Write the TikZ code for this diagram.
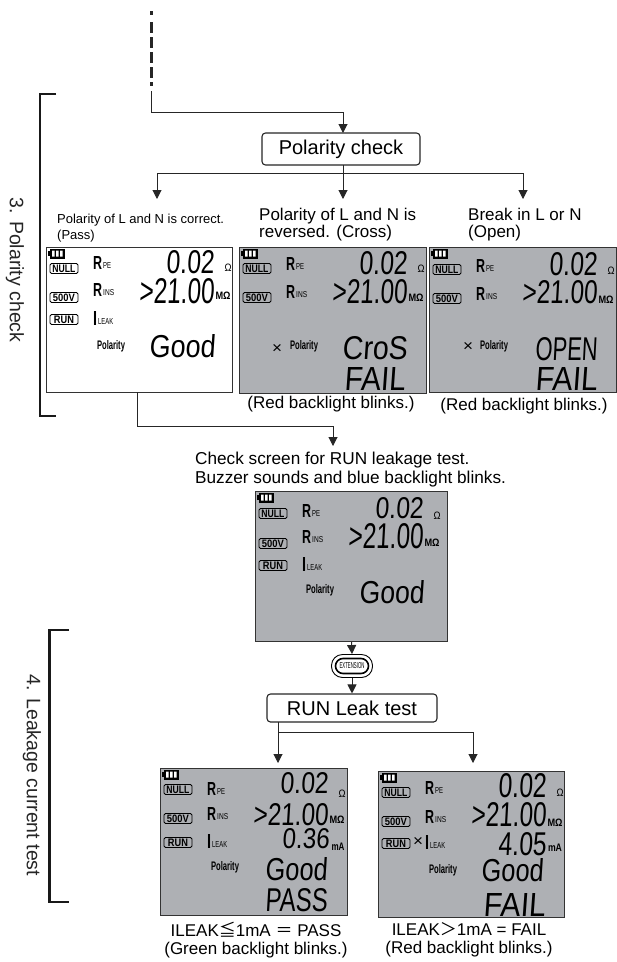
\documentclass[tikz,border=0pt]{standalone}
\usepackage{fontspec}
\setmainfont{Liberation Sans}
\newfontfamily\lcdf{Liberation Sans}[FakeSlant=0.08]
\newfontfamily\cjkf{Noto Sans CJK JP}
\usetikzlibrary{arrows.meta}
\newcommand\fitbox[3]{\resizebox{#1pt}{#2pt}{#3}}
\tikzset{
  x=1pt,y=-1pt,
  conn/.style={line width=1pt,draw=black!85},
  arr/.style={conn,-{Triangle[length=9pt,width=9pt]}},
  bracket/.style={line width=2.6pt,draw=black!90},
  flowbox/.style={draw=black!85,line width=1.1pt,rounded corners=3.5pt,fill=white,font=\fontsize{20}{22}\selectfont,inner sep=0pt},
  panel/.style={draw=black!80,line width=1.1pt,anchor=north west,inner sep=0pt},
  seg/.style={anchor=north west,inner sep=0pt},
  captxt/.style={font=\fontsize{17}{18}\selectfont,align=center,inner sep=0pt},
  labeltxt/.style={font=\fontsize{17}{17}\selectfont,align=left,anchor=north west,inner sep=0pt},
  modebox/.style={draw=black,line width=.9pt,rounded corners=1.5pt,minimum width=28pt,minimum height=10pt,inner sep=0pt,anchor=north west},
  tinytxt/.style={inner sep=0pt},
  steptxt/.style={rotate=-90,font=\fontsize{19.5}{20}\selectfont,inner sep=0pt,text=black!85},
}
\definecolor{lcdgray}{RGB}{174,176,180}
\newcommand\segtext[6]{\node[seg] (#1) at (#2,#3) {\fitbox{#4}{#5}{\lcdf #6}};}
% rows: null y, volt y, Rpe y, Rins y, 0.02 y, 0.02 h, >21 y, >21 h
\newcommand\setrows[8]{\def\rnull{#1}\def\rvolt{#2}\def\rrpe{#3}\def\rrins{#4}\def\raY{#5}\def\raH{#6}\def\rbY{#7}\def\rbH{#8}}
\newcommand\lcdbase[6]{% name x y w h fill
  \node[panel,minimum width=#4pt,minimum height=#5pt,fill=#6] (#1) at (#2,#3) {};
  \begin{scope}[shift={(#2,#3)}]
    \node[fill=black,minimum width=15pt,minimum height=10pt,inner sep=0pt,anchor=north west] (#1bat) at (4,1.5) {};
    \fill[black] (2,4) rectangle (4,9);
    \fill[white] (6,3.5) rectangle (8.5,9.5) (10,3.5) rectangle (12.5,9.5) (14,3.5) rectangle (16.5,9.5);
    \node[modebox] (#1null) at (3.5,\rnull) {\fitbox{23}{7.5}{\bfseries NULL}};
    \node[modebox] (#1volt) at (3.5,\rvolt) {\fitbox{22}{7.5}{\bfseries 500V}};
    \node[tinytxt,anchor=west] (#1rpe) at (47,\rrpe) {\fitbox{9}{13}{\bfseries R}};
    \node[tinytxt,anchor=west] (#1pe) at (57,\rrpe+2.5) {\fitbox{8}{6}{PE}};
    \node[tinytxt,anchor=west] (#1rins) at (47,\rrins) {\fitbox{9}{13}{\bfseries R}};
    \node[tinytxt,anchor=west] (#1ins) at (57,\rrins+2.5) {\fitbox{11}{6}{INS}};
    \segtext{#1a}{120}{\raY}{48}{\raH}{0.02}
    \segtext{#1b}{93}{\rbY}{75}{\rbH}{>21.00}
    \node[tinytxt] (#1om) at (182,\rrpe+5) {\fitbox{7}{7.5}{Ω}};
    \node[tinytxt] (#1mo) at (177,\rrins+6) {\fitbox{15}{7.5}{\bfseries MΩ}};
    \node[tinytxt] (#1pol) at (65,99) {\fitbox{28}{9}{\bfseries Polarity}};
  \end{scope}}
\newcommand\lcdrun[4]{% name x y rowy
  \begin{scope}[shift={(#2,#3)}]
    \node[modebox] (#1run) at (3.5,#4) {\fitbox{20}{7.5}{\bfseries RUN}};
    \node[tinytxt,anchor=west] (#1il) at (47,#4+4) {\fitbox{4}{14}{\bfseries I}};
    \node[tinytxt,anchor=west] (#1leak) at (52,#4+7) {\fitbox{15}{6}{LEAK}};
  \end{scope}}
\newcommand\lcdlow[7]{% name x y lx ly w text
  \begin{scope}[shift={(#2,#3)}]\segtext{#1}{#4}{#5}{#6}{23}{#7}\end{scope}}
\newcommand\crossmark[3]{\node[tinytxt] (#1) at (#2,#3) {\fitbox{10}{9}{×}};}
\begin{document}
\begin{tikzpicture}
\useasboundingbox (0,0) rectangle (617,962);
% flow boxes
\node[flowbox,minimum width=158pt,minimum height=32pt] (polbox) at (341,149) {Polarity check};
\node[flowbox,minimum width=170pt,minimum height=28pt] (runbox) at (352,708) {RUN Leak test};
% panels
\setrows{16}{45}{16}{43}{3}{23}{31}{25}
\lcdbase{p1}{46}{247}{186}{145}{white}\lcdrun{p1}{46}{247}{67}
\lcdlow{p1good}{46}{247}{103}{87}{66}{Good}
\setrows{16}{45}{17}{45}{4}{23}{32}{24}
\lcdbase{p2}{239}{247}{187}{146}{lcdgray}
\lcdlow{p2t}{239}{247}{103}{89}{65}{CroS}
\lcdlow{p2f}{239}{247}{105}{120}{61}{FAIL}
\crossmark{p2x}{277}{349}
\setrows{17}{46}{19}{47}{5}{23}{33}{23}
\lcdbase{p3}{429}{247}{187}{145}{lcdgray}
\lcdlow{p3t}{429}{247}{106}{90}{62}{OPEN}
\lcdlow{p3f}{429}{247}{106}{120}{62}{FAIL}
\crossmark{p3x}{468}{347}
\setrows{17}{47}{20}{46}{6}{21}{32}{25}
\lcdbase{p4}{255}{491}{192}{150}{lcdgray}\lcdrun{p4}{255}{491}{69}
\lcdlow{p4good}{255}{491}{104}{89}{65}{Good}
\setrows{16}{45}{21}{46}{4}{21}{35}{22}
\lcdbase{p5}{160}{768}{187}{147}{lcdgray}\lcdrun{p5}{160}{768}{69}
\begin{scope}[shift={(160,768)}]
  \segtext{p5c}{122}{60}{47}{20}{0.36}
  \node[tinytxt] (p5ma) at (178,79) {\fitbox{13}{7.5}{\bfseries mA}};
\end{scope}
\lcdlow{p5good}{160}{768}{105}{89}{62}{Good}
\lcdlow{p5p}{160}{768}{105}{120}{62}{PASS}
\setrows{16}{45}{17}{46}{2}{24}{31}{24}
\lcdbase{p6}{378}{771}{186}{146}{lcdgray}\lcdrun{p6}{378}{771}{67}
\begin{scope}[shift={(378,771)}]
  \segtext{p6c}{120}{61}{48}{23}{4.05}
  \node[tinytxt] (p6ma) at (177,77) {\fitbox{14}{7.5}{\bfseries mA}};
\end{scope}
\lcdlow{p6good}{378}{771}{103}{87}{62}{Good}
\lcdlow{p6f}{378}{771}{105}{122}{62}{FAIL}
\crossmark{p6x}{418}{842}
% extension button
\node[draw=black,line width=.9pt,rounded corners=11pt,minimum width=41pt,minimum height=23pt,inner sep=0pt] (extout) at (352,666) {};
\node[draw=black,line width=1.6pt,rounded corners=7.5pt,minimum width=33pt,minimum height=15pt,inner sep=0pt] (ext) at (352,666) {\fitbox{25}{6}{EXTENSION}};
% connectors
\coordinate (d0) at (151.5,11);
\coordinate (d1) at (151.5,87);
\coordinate (d2) at (151.5,91);
\coordinate (d3) at (151.5,112);
\coordinate (d4) at (343,112);
\coordinate (d5) at (343,133);
\draw[line width=2.4pt,draw=black!85,dash pattern=on 4pt off 7pt on 11pt off 4pt on 11pt off 4pt on 11pt off 4pt on 11pt off 4pt on 4pt off 100pt] (d0) -- (d1);
\draw[conn] (d2) -- (d3) -- (d4);
\draw[arr] (d4) -- (d5);
\coordinate (j0) at (343,165);
\coordinate (j1) at (343,173);
\coordinate (jl) at (157,173);
\coordinate (jr) at (523,173);
\coordinate (el) at (157,199);
\coordinate (em) at (343,199);
\coordinate (er) at (523,199);
\draw[conn] (j0) -- (j1);
\draw[conn] (jl) -- (jr);
\draw[arr] (jl) -- (el);
\draw[arr] (j1) -- (em);
\draw[arr] (jr) -- (er);
\coordinate (s1) at (137,392);
\coordinate (s2) at (137,426);
\coordinate (s3) at (333,426);
\coordinate (s4) at (333,446);
\draw[arr] (s1) -- (s2) -- (s3) -- (s4);
\draw[arr] (p4.south) -- (extout.north);
\draw[arr] (extout.south) -- (runbox.north);
\coordinate (r1) at (278,722);
\coordinate (r2) at (278,732);
\coordinate (r3) at (473,732);
\coordinate (r4) at (278,763);
\coordinate (r5) at (473,763);
\draw[arr] (r1) -- (r4);
\draw[conn] (r2) -- (r3);
\draw[arr] (r3) -- (r5);
% brackets
\coordinate (b1a) at (56,94);\coordinate (b1b) at (40,94);\coordinate (b1c) at (40,416);\coordinate (b1d) at (56,416);
\draw[bracket] (b1a) -- (b1b) -- (b1c) -- (b1d);
\coordinate (b2a) at (69,630);\coordinate (b2b) at (49.5,630);\coordinate (b2c) at (49.5,902);\coordinate (b2d) at (69,902);
\draw[bracket] (b2a) -- (b2b) -- (b2c) -- (b2d);
% texts
\node[steptxt] (t3) at (15,270) {3. Polarity check};
\node[steptxt] (t4) at (32,775.5) {4. Leakage current test};
\node[font=\fontsize{13}{16}\selectfont,align=left,anchor=north west,inner sep=0pt] (l1) at (57,213.5) {Polarity of L and N is correct.\\(Pass)};
\node[labeltxt] (l2) at (259,208) {Polarity of L and N is\\reversed. (Cross)};
\node[labeltxt] (l3) at (468,208) {Break in L or N\\(Open)};
\node[captxt] (c2) at (331,404) {(Red backlight blinks.)};
\node[captxt] (c3) at (524,406) {(Red backlight blinks.)};
\node[labeltxt,font=\fontsize{17.2}{19}\selectfont] (c4) at (195,452) {Check screen for RUN leakage test.\\Buzzer sounds and blue backlight blinks.};
\node[captxt] (c5) at (256,940) {ILEAK{\cjkf ≦}1mA {\cjkf ＝} PASS\\(Green backlight blinks.)};
\node[captxt] (c6) at (469,940) {ILEAK{\cjkf ＞}1mA = FAIL\\(Red backlight blinks.)};
\end{tikzpicture}
\end{document}
